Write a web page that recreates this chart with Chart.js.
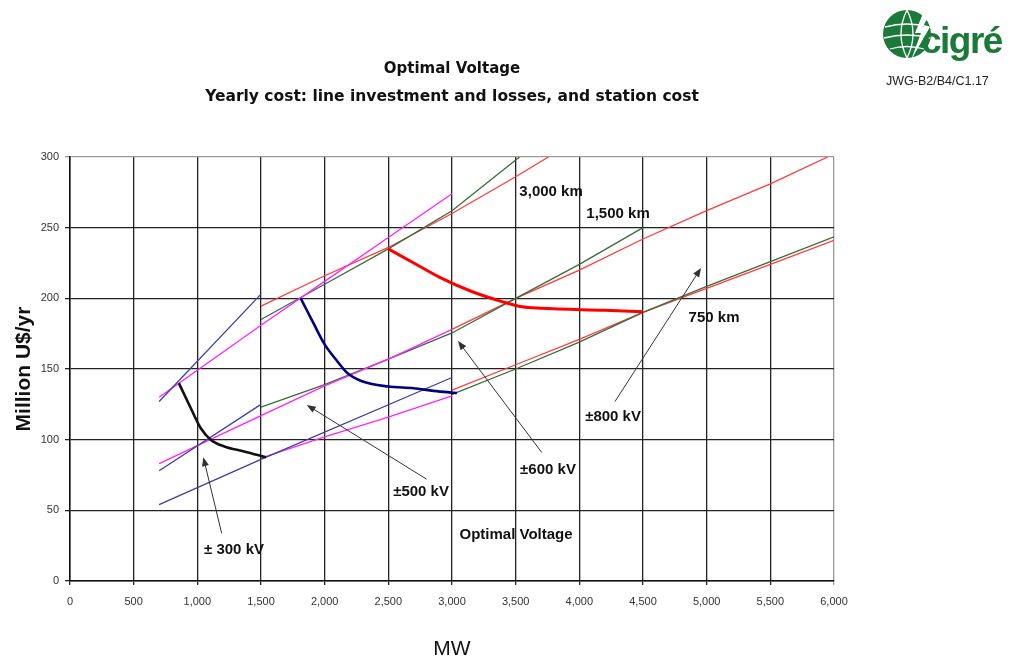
<!DOCTYPE html>
<html>
<head>
<meta charset="utf-8">
<script src="https://cdn.jsdelivr.net/npm/chart.js@4"></script>
<style>
  body { margin: 0; background: #fff; }
  #wrap { position: relative; width: 1014px; height: 664px; overflow: hidden; }
  #c { position: absolute; left: 0; top: 0; }
  .ttl { position: absolute; left: 70px; width: 764px; text-align: center;
         font-family: "DejaVu Sans", sans-serif; font-weight: bold; color: #111; white-space: nowrap; }
  #logo { position: absolute; left: 880px; top: 2px; width: 134px; height: 90px; }
  #cigre { position: absolute; left: 921px; top: 20px; font-family: "Liberation Sans", Arial, sans-serif;
           font-weight: bold; font-size: 37px; color: #1b7a3a; letter-spacing: -1.5px; }
  #jwg { position: absolute; left: 886px; top: 74px; font-family: "Liberation Sans", Arial, sans-serif;
         font-size: 12.5px; color: #222; }
</style>
</head>
<body>
<div id="wrap">
  <canvas id="c" width="1014" height="664"></canvas>
  <div class="ttl" style="top:59px;font-size:15px;">Optimal Voltage</div>
  <div class="ttl" style="top:87px;font-size:15.5px;">Yearly cost: line investment and losses, and station cost</div>
  <svg id="logo" viewBox="0 0 134 90" width="134" height="90">
    <circle cx="27" cy="32" r="24" fill="#1b7a3a"/>
    <path d="M5 25 Q27 19 49 25 M4 36 Q27 30 50 36 M10 47 Q27 42 44 47 M27 8 Q15 32 27 56 M27 8 Q39 32 27 56" stroke="#fff" stroke-width="1.3" fill="none"/>
    <path d="M46 4 L35 31 L41 31 L31 58 L50 25 L43 25 L53 4 Z" fill="#fff"/>
  </svg>
  <div id="cigre">cigré</div>
  <div id="jwg">JWG-B2/B4/C1.17</div>
</div>
<script>
// ±300 kV (blue), cost in million U$/yr vs MW, for 3000 / 1500 / 750 km
const blue3000 = [[700, 127], [1500, 203]];
const blue1500 = [[700, 78], [1500, 125]];
const blue750  = [[700, 54], [1500, 86], [3000, 144]];

// ±500 kV (magenta)
const mag3000 = [[700, 130], [1500, 181], [2000, 212], [2500, 243], [3000, 274]];
const mag1500 = [[700, 83], [1500, 117], [2000, 138], [2500, 157], [3000, 178]];
const mag750  = [[1500, 87], [2000, 102], [2500, 116], [3000, 131]];

// ±600 kV (green)
const green3000 = [[1500, 185], [2000, 210], [2500, 235], [3000, 262], [3530, 300]];
const green1500 = [[1500, 123], [2000, 139], [2500, 157], [3000, 175.5], [3500, 200], [4000, 224], [4500, 250]];
const green750  = [[3000, 132], [3500, 150], [4000, 169], [4500, 190], [5000, 208.5], [5500, 226], [6000, 243.5]];

// ±800 kV (red)
const red3000 = [[1500, 194.5], [2000, 216], [2500, 236], [3000, 260], [3500, 286], [3757, 300]];
const red1500 = [[3000, 178], [3500, 200], [4000, 220], [4500, 242], [5000, 262], [5500, 281], [5950, 300]];
const red750  = [[3000, 135], [3500, 153], [4000, 171], [4500, 190], [5000, 207], [5500, 224], [6000, 241]];

// optimal voltage curves
const optBlack = [[855, 140], [947, 122.6], [1026, 108.3], [1105, 100], [1211, 95.2], [1368, 91.7], [1540, 87.5]];
const optNavy  = [[1812, 200], [1916, 181.7], [2000, 167.4], [2099, 155.5], [2178, 147.1], [2282, 141.7],
                  [2496, 137.6], [2700, 136.4], [2856, 134.5], [3039, 133]];
const optRed   = [[2500, 235], [2700, 225], [2900, 215], [3150, 205], [3400, 197.5], [3550, 194],
                  [3700, 193], [4200, 191.5], [4500, 190.5]];

// text labels inside the plot (MW, cost)
const noteText = ['± 300 kV', '±500 kV', '±600 kV', '±800 kV', '3,000 km', '1,500 km', '750 km', 'Optimal Voltage'];
const noteMW   = [1288, 2757, 3754, 4265, 3778, 4304, 5058, 3503];
const noteCost = [22, 63, 78.6, 116, 275.5, 260, 186, 33];

// arrows: tail -> head (MW, cost)
const arrowFromMW   = [1191, 2801, 3705, 4280];
const arrowFromCost = [33.8, 72, 90.9, 127];
const arrowToMW     = [1047, 1859, 3047, 4956];
const arrowToCost   = [87.6, 124.6, 169.8, 221.5];

const xTicks = [0, 6000, 500];
const yTicks = [0, 300, 50];

function series(label, pts, color, width, order, curve) {
    return {
        label: label,
        data: pts.map(p => ({ x: p[0], y: p[1] })),
        borderColor: color,
        borderWidth: width,
        showLine: true,
        pointRadius: 0,
        fill: false,
        order: order,
        tension: 0,
        cubicInterpolationMode: curve ? 'monotone' : 'default'
    };
}

const THIN = 1.3;
const datasets = [
    series('opt black', optBlack, '#111111', 2.6, 0, true),
    series('opt navy', optNavy, '#000080', 2.6, 0, true),
    series('opt red', optRed, '#ff0000', 3, 0, true),
    series('300 kV 3000 km', blue3000, '#3f3fa0', THIN, 1),
    series('300 kV 1500 km', blue1500, '#3f3fa0', THIN, 1),
    series('300 kV 750 km', blue750, '#3f3fa0', THIN, 1),
    series('500 kV 3000 km', mag3000, '#ff22ff', THIN, 1),
    series('500 kV 1500 km', mag1500, '#ff22ff', THIN, 1),
    series('500 kV 750 km', mag750, '#ff22ff', THIN, 1),
    series('600 kV 3000 km', green3000, '#3a6b3a', THIN, 1),
    series('600 kV 1500 km', green1500, '#3a6b3a', THIN, 1),
    series('600 kV 750 km', green750, '#3a6b3a', THIN, 1),
    series('800 kV 3000 km', red3000, '#ff3b3b', THIN, 1),
    series('800 kV 1500 km', red1500, '#ff3b3b', THIN, 1),
    series('800 kV 750 km', red750, '#ff3b3b', THIN, 1)
];

// labels and arrows drawn on the plot in data coordinates
const notesPlugin = {
    id: 'notes',
    afterDatasetsDraw(chart) {
        const ctx = chart.ctx;
        const xs = chart.scales.x, ys = chart.scales.y;
        ctx.save();
        ctx.strokeStyle = '#333';
        ctx.fillStyle = '#333';
        ctx.lineWidth = 1;
        for (let i = 0; i < arrowFromMW.length; i++) {
            const x1 = xs.getPixelForValue(arrowFromMW[i]), y1 = ys.getPixelForValue(arrowFromCost[i]);
            const x2 = xs.getPixelForValue(arrowToMW[i]), y2 = ys.getPixelForValue(arrowToCost[i]);
            const a = Math.atan2(y2 - y1, x2 - x1);
            ctx.beginPath();
            ctx.moveTo(x1, y1);
            ctx.lineTo(x2 - 6 * Math.cos(a), y2 - 6 * Math.sin(a));
            ctx.stroke();
            ctx.beginPath();
            ctx.moveTo(x2, y2);
            ctx.lineTo(x2 - 9 * Math.cos(a) + 3.5 * Math.sin(a), y2 - 9 * Math.sin(a) - 3.5 * Math.cos(a));
            ctx.lineTo(x2 - 9 * Math.cos(a) - 3.5 * Math.sin(a), y2 - 9 * Math.sin(a) + 3.5 * Math.cos(a));
            ctx.closePath();
            ctx.fill();
        }
        ctx.fillStyle = '#111';
        ctx.font = 'bold 15px "Liberation Sans Narrow", "Liberation Sans", Arial, sans-serif';
        ctx.textAlign = 'center';
        ctx.textBaseline = 'middle';
        for (let i = 0; i < noteText.length; i++) {
            ctx.fillText(noteText[i], xs.getPixelForValue(noteMW[i]), ys.getPixelForValue(noteCost[i]));
        }
        ctx.restore();
    }
};

const tickFont = { family: '"Liberation Sans Narrow", "Liberation Sans", Arial, sans-serif', size: 11 };

new Chart(document.getElementById('c'), {
    type: 'scatter',
    data: { datasets: datasets },
    options: {
        responsive: false,
        animation: false,
        layout: { padding: { left: 0, top: 157, right: 180, bottom: 0 } },
        plugins: { legend: { display: false }, tooltip: { enabled: false }, title: { display: false } },
        scales: {
            x: {
                type: 'linear',
                min: xTicks[0], max: xTicks[1],
                ticks: {
                    stepSize: xTicks[2],
                    color: '#333',
                    font: tickFont,
                    padding: 10,
                    maxRotation: 0,
                    callback: v => v.toLocaleString('en-US')
                },
                grid: {
                    color: c => (c.tick && c.tick.value === xTicks[1]) ? '#9a9a9a' : '#222',
                    lineWidth: 1.3,
                    tickLength: 4
                },
                border: { color: '#111', width: 1.5 },
                title: {
                    display: true, text: 'MW', color: '#111',
                    font: { family: '"Liberation Sans", Arial, sans-serif', size: 21 },
                    padding: { top: 0, bottom: 2 }
                },
                afterFit(s) { s.height = 83; }
            },
            y: {
                type: 'linear',
                min: yTicks[0], max: yTicks[1],
                ticks: { stepSize: yTicks[2], color: '#333', font: tickFont, padding: 6 },
                grid: {
                    color: c => (c.tick && c.tick.value === yTicks[1]) ? '#9a9a9a' : '#222',
                    lineWidth: 1.3,
                    tickLength: 5
                },
                border: { color: '#111', width: 1.5 },
                title: {
                    display: true, text: 'Million U$/yr', color: '#111',
                    font: { family: '"Liberation Sans", Arial, sans-serif', size: 21, weight: 'bold' },
                    padding: { top: 12, bottom: 0 }
                },
                afterFit(s) { s.width = 70; }
            }
        }
    },
    plugins: [notesPlugin]
});
</script>
</body>
</html>
